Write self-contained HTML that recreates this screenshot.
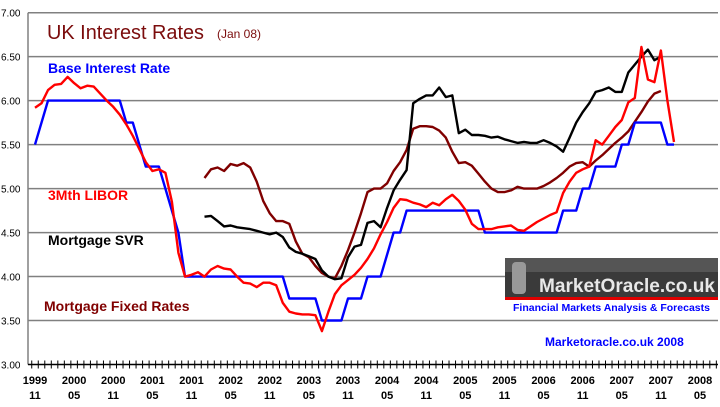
<!DOCTYPE html>
<html><head><meta charset="utf-8"><style>
html,body{margin:0;padding:0;background:#fff;}
svg{display:block;font-family:"Liberation Sans",Arial,sans-serif;}
</style></head><body>
<svg id="chart" width="720" height="407" viewBox="0 0 720 407">
<rect x="0" y="0" width="720" height="407" fill="#fff"/>
<g id="grid"></g>
<g id="yax"></g>
<g id="xax"></g>
<g id="series"></g>
<text x="47" y="39" font-size="20" fill="#7b0c0c" textLength="157" lengthAdjust="spacingAndGlyphs">UK Interest Rates</text>
<text x="217" y="38" font-size="12" fill="#7b0c0c">(Jan 08)</text>
<text x="48" y="73" font-size="14" font-weight="bold" fill="#0000ff">Base Interest Rate</text>
<text x="48" y="200" font-size="14" font-weight="bold" fill="#ff0000">3Mth LIBOR</text>
<text x="48" y="245" font-size="14" font-weight="bold" fill="#000">Mortgage SVR</text>
<text x="44" y="311" font-size="14" font-weight="bold" fill="#800000">Mortgage Fixed Rates</text>
<g>
<rect x="505" y="258" width="213" height="40" fill="#3a3a3a"/>
<rect x="505" y="258" width="213" height="14" fill="#555"/>
<rect x="505" y="297" width="213" height="3" fill="#e00000"/>
<rect x="505" y="300" width="213" height="14" fill="#fff"/>
<rect x="512" y="262" width="14" height="32" fill="#999" rx="4"/>
<text x="539" y="292" font-size="19" font-weight="bold" fill="#e8e8e8" textLength="176" lengthAdjust="spacingAndGlyphs">MarketOracle.co.uk</text>
<text x="513" y="311" font-size="10" font-weight="bold" fill="#0000ff" textLength="197" lengthAdjust="spacingAndGlyphs">Financial Markets Analysis &amp; Forecasts</text>
</g>
<text x="545" y="346" font-size="12" font-weight="bold" fill="#0000ff">Marketoracle.co.uk 2008</text>
</svg>
<script>
const yTicks=[3.0,3.5,4.0,4.5,5.0,5.5,6.0,6.5,7.0];
const xLabelYears=["1999","2000","2000","2001","2001","2002","2002","2003","2003","2004","2004","2005","2005","2006","2006","2007","2007","2008"];
const xLabelMonths=["11","05","11","05","11","05","11","05","11","05","11","05","11","05","11","05","11","05"];
const baseStart=0;
const baseRate=[5.5,5.75,6,6,6,6,6,6,6,6,6,6,6,6,5.75,5.75,5.5,5.25,5.25,5.25,5,4.75,4.5,4,4,4,4,4,4,4,4,4,4,4,4,4,4,4,4,3.75,3.75,3.75,3.75,3.75,3.5,3.5,3.5,3.5,3.75,3.75,3.75,4,4,4,4.25,4.5,4.5,4.75,4.75,4.75,4.75,4.75,4.75,4.75,4.75,4.75,4.75,4.75,4.75,4.5,4.5,4.5,4.5,4.5,4.5,4.5,4.5,4.5,4.5,4.5,4.5,4.75,4.75,4.75,5,5,5.25,5.25,5.25,5.25,5.5,5.5,5.75,5.75,5.75,5.75,5.75,5.5,5.5];
const liborStart=0;
const libor=[5.92,5.97,6.12,6.18,6.19,6.27,6.2,6.14,6.17,6.16,6.08,6.0,5.93,5.84,5.73,5.6,5.45,5.3,5.2,5.22,5.18,4.85,4.27,4.0,4.02,4.05,4.0,4.08,4.12,4.09,4.08,4.0,3.93,3.92,3.88,3.93,3.93,3.9,3.7,3.6,3.58,3.57,3.57,3.56,3.38,3.6,3.8,3.9,3.96,4.02,4.1,4.2,4.32,4.48,4.62,4.78,4.88,4.87,4.84,4.82,4.79,4.84,4.81,4.88,4.93,4.86,4.76,4.6,4.54,4.54,4.54,4.56,4.57,4.58,4.53,4.52,4.57,4.62,4.66,4.7,4.73,4.95,5.08,5.18,5.22,5.25,5.55,5.5,5.6,5.7,5.78,5.98,6.03,6.61,6.24,6.21,6.57,6.0,5.53];
const svrStart=26;
const svr=[4.68,4.69,4.63,4.57,4.58,4.56,4.55,4.54,4.52,4.5,4.48,4.5,4.45,4.33,4.28,4.26,4.23,4.2,4.07,4.0,3.97,3.98,4.22,4.34,4.36,4.61,4.63,4.56,4.78,4.98,5.1,5.21,5.97,6.02,6.06,6.06,6.15,6.04,6.06,5.63,5.67,5.61,5.61,5.6,5.58,5.59,5.56,5.54,5.52,5.53,5.52,5.52,5.55,5.52,5.48,5.42,5.58,5.75,5.87,5.97,6.1,6.12,6.15,6.1,6.1,6.32,6.41,6.5,6.58,6.46,6.5];
const fixedStart=26;
const fixed=[5.12,5.22,5.24,5.2,5.28,5.26,5.29,5.24,5.08,4.86,4.72,4.63,4.63,4.6,4.4,4.26,4.22,4.12,4.04,4.0,3.98,4.12,4.3,4.5,4.72,4.96,5.0,5.0,5.06,5.2,5.3,5.44,5.68,5.71,5.71,5.7,5.66,5.58,5.42,5.29,5.3,5.26,5.17,5.08,5.0,4.96,4.96,4.98,5.02,5.0,5.0,5.0,5.03,5.07,5.12,5.18,5.25,5.29,5.3,5.25,5.32,5.38,5.45,5.52,5.58,5.65,5.76,5.87,5.99,6.08,6.11];

const NS="http://www.w3.org/2000/svg";
const X0=28,X1=718,Y0=364.5,Y1=12.7;
function yScale(v){return Y0-(v-3)*(Y0-Y1)/4;}
function xScale(m){return 35+m*6.52;}
function mk(tag,attrs,parent){const e=document.createElementNS(NS,tag);for(const k in attrs)e.setAttribute(k,attrs[k]);parent.appendChild(e);return e;}
const grid=document.getElementById('grid'),yax=document.getElementById('yax'),xax=document.getElementById('xax'),ser=document.getElementById('series');
yTicks.forEach(v=>{
  const y=yScale(v);
  if(v>3){const l=mk('line',{x1:X0,x2:X1,y1:y,y2:y,stroke:'#808080','stroke-width':1.5},grid);
  
  }
  const t=mk('text',{x:1,y:y+4,'font-size':10,fill:'#000'},yax);t.textContent=v.toFixed(2);
  
  
});
mk('line',{x1:X0,x2:X0,y1:Y1,y2:Y0,stroke:'#808080','stroke-width':1.5},yax);
mk('line',{x1:X0,x2:X1,y1:Y0,y2:Y0,stroke:'#000','stroke-width':1.5},xax);
for(let m=-1;m<=104;m++){const x=xScale(m)+3.26;if(x<X0||x>X1)continue;mk('line',{x1:x,x2:x,y1:Y0-4,y2:Y0+4,stroke:'#000','stroke-width':1},xax);}
xLabelYears.forEach((yr,i)=>{
  const x=xScale(i*6);
  const t1=mk('text',{x:x,y:384,'font-size':11,'font-weight':'bold','text-anchor':'middle'},xax);t1.textContent=yr;
  
  
  const t2=mk('text',{x:x,y:399,'font-size':11,'font-weight':'bold','text-anchor':'middle'},xax);t2.textContent=xLabelMonths[i];
  
  
});
function line(vals,start,color,name){
  const pts=vals.map((v,i)=>xScale(start+i).toFixed(1)+','+yScale(v).toFixed(1)).join(' ');
  const p=mk('polyline',{points:pts,fill:'none',stroke:color,'stroke-width':2.4,'stroke-linejoin':'round'},ser);
  
  
}
line(fixed,fixedStart,'#800000','series-mortgage-fixed');
line(svr,svrStart,'#000000','series-mortgage-svr');
line(baseRate,baseStart,'#0000ff','series-base-rate');
line(libor,liborStart,'#ff0000','series-3m-libor');
</script>
</body></html>
